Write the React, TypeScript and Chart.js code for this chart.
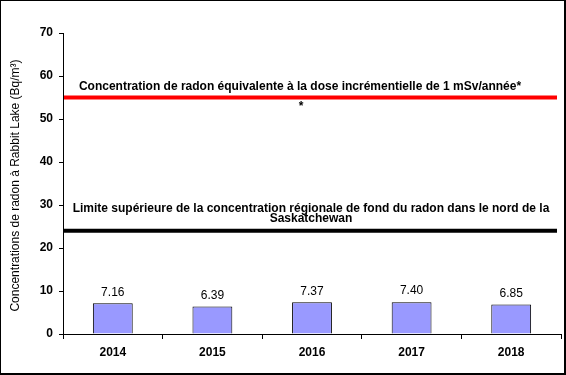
import React, { useEffect, useRef } from "react";
import { Chart, registerables } from "chart.js";

Chart.register(...registerables);

const years = ["2014", "2015", "2016", "2017", "2018"];
const radonValues = [7.16, 6.39, 7.37, 7.4, 6.85];
const yTicks = [0, 10, 20, 30, 40, 50, 60, 70];
const refValues = [55, 24];
const refColors = ["#FF0000", "#000000"];
const refLabels = [
  ["Concentration de radon équivalente à la dose incrémentielle de 1 mSv/année*", "*"],
  ["Limite supérieure de la concentration régionale de fond du radon dans le nord de la", "Saskatchewan"],
];
const yTitle = "Concentrations de radon à Rabbit Lake (Bq/m³)";
const FONT = "'Liberation Sans', Arial, sans-serif";

const refPlugin = {
  id: "refLines",
  afterDatasetsDraw(chart: any) {
    const { ctx, chartArea, scales } = chart;
    const y = scales.y;
    ctx.save();
    refValues.forEach((v, i) => {
      const py = y.getPixelForValue(v);
      ctx.strokeStyle = refColors[i];
      ctx.lineWidth = 4;
      ctx.beginPath();
      ctx.moveTo(chartArea.left + 1, py);
      ctx.lineTo(chartArea.right - 4, py);
      ctx.stroke();
    });
    ctx.fillStyle = "#000";
    ctx.font = `bold 12px ${FONT}`;
    ctx.textAlign = "center";
    ctx.textBaseline = "middle";
    const py0 = y.getPixelForValue(refValues[0]);
    ctx.fillText(refLabels[0][0], 299, py0 - 11);
    ctx.fillText(refLabels[0][1], 300, py0 + 9);
    const py1 = y.getPixelForValue(refValues[1]);
    ctx.fillText(refLabels[1][0], 310, py1 - 22);
    ctx.fillText(refLabels[1][1], 310, py1 - 12);
    // value labels
    const meta = chart.getDatasetMeta(0);
    ctx.font = `12px ${FONT}`;
    meta.data.forEach((bar: any, i: number) => {
      ctx.fillText(radonValues[i].toFixed(2), bar.x, bar.y - 11);
    });
    // y axis title
    ctx.translate(14.5, (chartArea.top + chartArea.bottom) / 2 + 2);
    ctx.rotate(-Math.PI / 2);
    ctx.font = `12px ${FONT}`;
    ctx.fillText(yTitle, 0, 0);
    ctx.restore();
  },
};

export default function App() {
  const ref = useRef<HTMLCanvasElement>(null);
  useEffect(() => {
    const chart = new Chart(ref.current!, {
      type: "bar",
      data: {
        labels: years,
        datasets: [
          {
            data: radonValues,
            backgroundColor: "#9999FF",
            borderColor: "#000000",
            borderWidth: 1,
            barPercentage: 0.4,
            categoryPercentage: 1,
          },
        ],
      },
      options: {
        animation: false,
        responsive: false,
        maintainAspectRatio: false,
        layout: { padding: { left: 0, top: 32, right: 3, bottom: 0 } },
        plugins: { legend: { display: false }, tooltip: { enabled: false } },
        scales: {
          x: {
            offset: true,
            grid: {
              display: true,
              drawOnChartArea: false,
              drawTicks: true,
              tickLength: 5,
              color: "#000",
              offset: true,
            },
            border: { color: "#000", width: 1 },
            ticks: {
              color: "#000",
              font: { family: FONT, size: 12, weight: "bold" },
              padding: 6,
              maxRotation: 0,
            },
            afterFit: (s: any) => {
              s.height = 39;
            },
          },
          y: {
            min: 0,
            max: 70,
            afterBuildTicks: (s: any) => {
              s.ticks = yTicks.map((v) => ({ value: v }));
            },
            grid: {
              display: true,
              drawOnChartArea: false,
              drawTicks: true,
              tickLength: 4,
              color: "#000",
            },
            border: { color: "#000", width: 1 },
            ticks: {
              color: "#000",
              font: { family: FONT, size: 12, weight: "bold" },
              padding: 6,
            },
            afterFit: (s: any) => {
              s.width = 62;
            },
          },
        },
      },
      plugins: [refPlugin],
    });
    return () => chart.destroy();
  }, []);
  return (
    <div
      style={{
        position: "absolute",
        left: 0,
        top: 0,
        width: 566,
        height: 375,
        boxSizing: "border-box",
        border: "1px solid #000",
        borderRightWidth: 2,
        borderBottomWidth: 2,
        background: "#fff",
      }}
    >
      <canvas ref={ref} width={563} height={372} style={{ display: "block" }} />
    </div>
  );
}
